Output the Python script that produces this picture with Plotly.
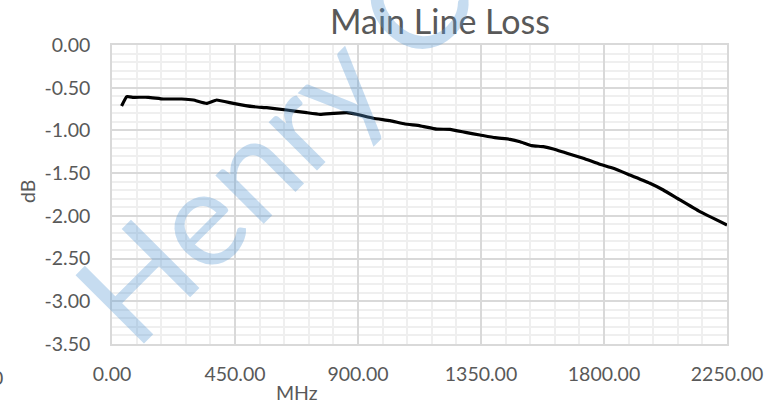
import plotly.graph_objects as go

# Data
freq_mhz = [35, 54, 78, 133, 188, 255, 298, 346, 383, 444, 517, 566, 639, 712, 761, 810,
            859, 895, 956, 1017, 1072, 1127, 1188, 1237, 1298, 1346, 1401, 1456, 1493,
            1535, 1578, 1615, 1664, 1724, 1785, 1834, 1895, 1968, 2017, 2078, 2151, 2250]
loss_db = [-0.714, -0.605, -0.612, -0.612, -0.632, -0.632, -0.644, -0.683, -0.644, -0.683,
           -0.722, -0.734, -0.761, -0.792, -0.811, -0.800, -0.792, -0.811, -0.858, -0.886,
           -0.925, -0.946, -0.985, -0.987, -1.026, -1.053, -1.085, -1.104, -1.132, -1.178,
           -1.190, -1.217, -1.268, -1.326, -1.397, -1.443, -1.522, -1.619, -1.697, -1.814,
           -1.951, -2.107]

x_tick_vals = [0, 450, 900, 1350, 1800, 2250]
x_tick_text = ["0.00", "450.00", "900.00", "1350.00", "1800.00", "2250.00"]
y_tick_vals = [0, -0.5, -1.0, -1.5, -2.0, -2.5, -3.0, -3.5]
y_tick_text = ["0.00", "-0.50", "-1.00", "-1.50", "-2.00", "-2.50", "-3.00", "-3.50"]

title_text = "Main Line Loss"
x_title = "MHz"
y_title = "dB"
watermark = "Henry C"

W, H = 782, 408
L, R, T, B = 112, 55, 45, 64
PW, PH = W - L - R, H - T - B

def px_x(p):
    return (p - L) / PW

def px_y(p):
    return 1 - (p - T) / PH

FONT = "Lato"
GREY = "#595959"

fig = go.Figure()
fig.add_trace(go.Scatter(
    x=freq_mhz, y=loss_db, mode="lines",
    line=dict(color="black", width=3.2, shape="spline", smoothing=0.3),
    showlegend=False, hoverinfo="skip",
))

fig.update_layout(
    width=W, height=H,
    margin=dict(l=L, r=R, t=T, b=B),
    paper_bgcolor="white", plot_bgcolor="white",
    font=dict(family=FONT, color=GREY, size=19),
    title=dict(text=title_text, x=440 / W, xref="container", xanchor="center",
               y=1 - 22 / H, yref="container", yanchor="middle",
               font=dict(family=FONT, size=34, color=GREY)),
    showlegend=False,
)

fig.update_xaxes(
    range=[0, 2250], tickvals=x_tick_vals, ticktext=x_tick_text,
    showgrid=True, gridcolor="#d9d9d9", gridwidth=1.5,
    minor=dict(dtick=90, tick0=0, showgrid=True, gridcolor="#efefef", gridwidth=1.5),
    showline=True, linecolor="#d9d9d9", linewidth=1.5, mirror=True,
    zeroline=False, ticks="", ticklabelstandoff=12,
    tickfont=dict(family=FONT, size=19.5, color=GREY),
)
fig.update_yaxes(
    range=[-3.5, 0], tickvals=y_tick_vals, ticktext=y_tick_text,
    showgrid=True, gridcolor="#d9d9d9", gridwidth=1.5,
    minor=dict(dtick=0.1, tick0=0, showgrid=True, gridcolor="#efefef", gridwidth=1.5),
    showline=True, linecolor="#d9d9d9", linewidth=1.5, mirror=True,
    zeroline=False, ticks="", ticklabelstandoff=16,
    tickfont=dict(family=FONT, size=19.5, color=GREY),
)

annotations = [
    dict(text=x_title, x=px_x(297), y=px_y(393), xref="paper", yref="paper",
         xanchor="center", yanchor="middle", showarrow=False,
         font=dict(family=FONT, size=19.5, color=GREY)),
    dict(text=y_title, x=px_x(27), y=px_y(192), xref="paper", yref="paper",
         xanchor="center", yanchor="middle", showarrow=False, textangle=-90,
         font=dict(family=FONT, size=19.5, color=GREY)),
    dict(text="0", x=px_x(5), y=px_y(377), xref="paper", yref="paper",
         xanchor="right", yanchor="middle", showarrow=False,
         font=dict(family=FONT, size=19.5, color=GREY)),
    dict(text=watermark, x=px_x(271), y=px_y(143), xref="paper", yref="paper",
         xanchor="center", yanchor="middle", showarrow=False, textangle=-45,
         font=dict(family=FONT, size=135, color="rgba(91,155,213,0.35)")),
]
fig.update_layout(annotations=annotations)

fig.write_html("out.html", config={"displayModeBar": False},
               post_script="document.body.style.margin='0';")
